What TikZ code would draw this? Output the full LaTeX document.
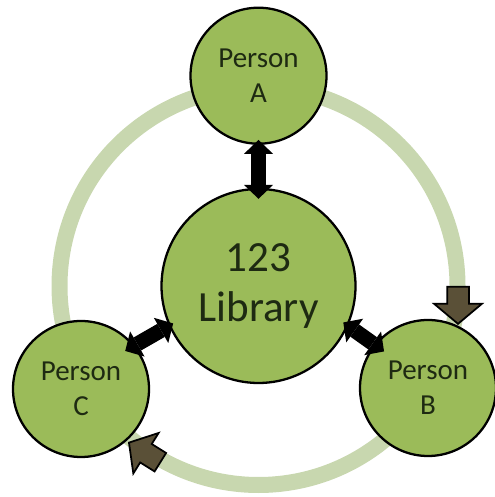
\documentclass[tikz,border=0pt]{standalone}
\usepackage{fontspec}
\setmainfont{Carlito}
\usetikzlibrary{arrows.meta,positioning,shapes.arrows}
\definecolor{leaf}{HTML}{9BBB59}
\definecolor{pale}{HTML}{C8D7AF}
\definecolor{bark}{HTML}{5A5037}
\definecolor{ink}{HTML}{1E2A12}
\tikzset{
    %Define style for the people
    person/.style={
           circle,
           draw=black, line width=1.3pt,
           fill=leaf,
           minimum size=2.72cm,
           inner sep=0pt,
           align=center,
           text=ink,
           font=\fontsize{16.5}{20}\selectfont},
    %Define style for the library
    libnode/.style={
           person,
           minimum size=3.88cm,
           font=\fontsize{24.5}{28}\selectfont},
    % pale ring behind everything
    ring/.style={draw=pale, line width=0.32cm},
    % brown flow arrows on the ring
    flowtip/.style={
           single arrow,
           draw=black, line width=1pt,
           fill=bark,
           minimum height=0.74cm,
           inner sep=0.2cm,
           single arrow head extend=0.26cm,
           single arrow tip angle=100},
    % Define two way link style
    link/.style={
           <->,
           >={Triangle[width=0.58cm,length=0.28cm,line width=0pt]},
           line width=0.3cm}
}
\begin{document}
\begin{tikzpicture}[node distance=0.86cm]
\useasboundingbox (0,0) rectangle (9.88,9.94);
\coordinate (mid) at (5.17,4.22);

 %ring
\draw[ring] (mid) circle (3.98cm);

 %nodes
\node[libnode] (lib) at (mid) {123\\Library};
\node[person, above=of lib] (A) {Person\\A};
\node[person] (B) at (8.56,2.18) {Person\\B};
\node[person] (C) at (1.62,2.16) {Person\\C};

 %flow arrows
\node[flowtip, rotate=-90, anchor=tip] (toB) at (9.16,3.44) {};
\node[flowtip, rotate=148, anchor=tip] (toC) at (2.56,1.10) {};

 %links
\draw[link, shorten <=-0.22cm, shorten >=-0.1cm] (lib.90) -- (A.270);
\draw[link, shorten <=-0.1cm, shorten >=-0.22cm] (lib.204) -- (C.39);
\draw[link, shorten <=-0.12cm, shorten >=-0.24cm] (lib.336) -- (B.141);

\end{tikzpicture}
\end{document}
